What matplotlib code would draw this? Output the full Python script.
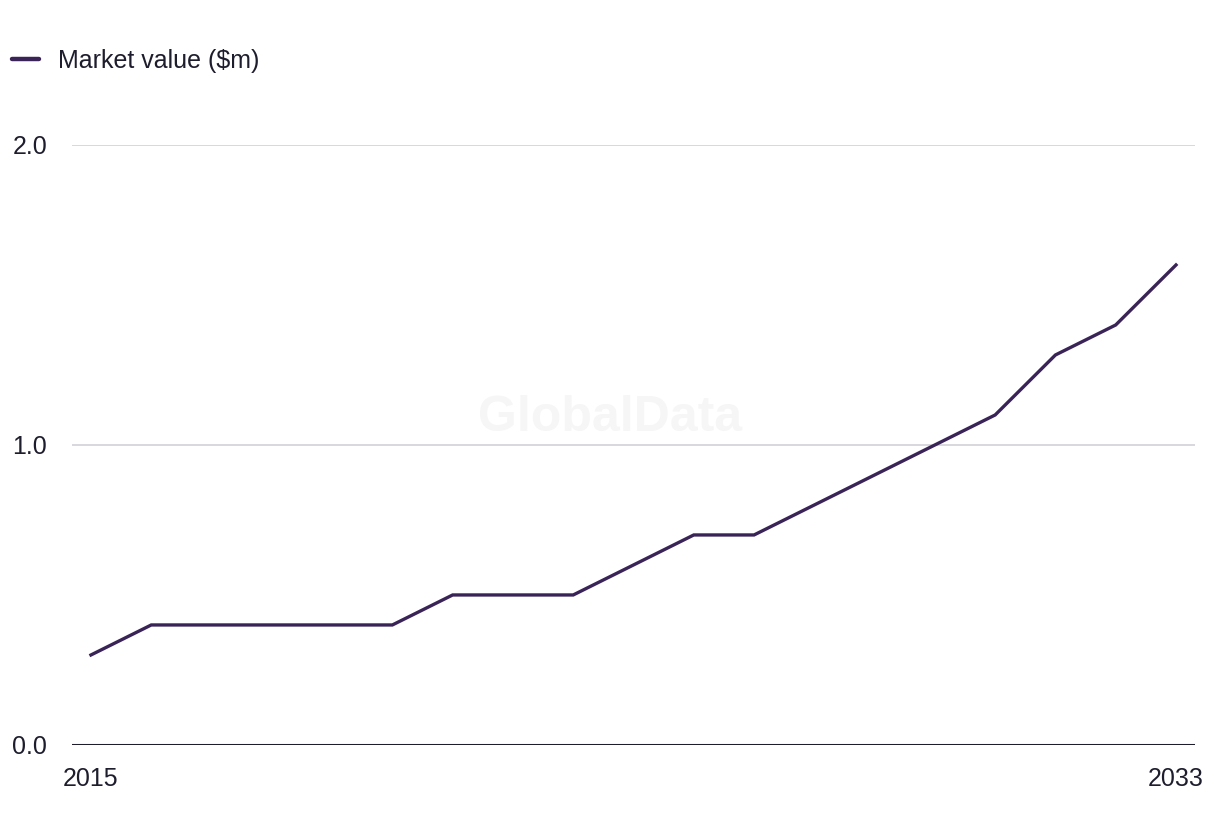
import matplotlib
matplotlib.use("Agg")
import matplotlib.pyplot as plt
from matplotlib.lines import Line2D

YEARS = list(range(2015, 2034))
MARKET_VALUE = [0.3, 0.4, 0.4, 0.4, 0.4, 0.4, 0.5, 0.5, 0.5, 0.6,
                0.7, 0.7, 0.8, 0.9, 1.0, 1.1, 1.3, 1.4, 1.6]
Y_TICKS = [0.0, 1.0, 2.0]
X_TICKS = [2015, 2033]

LINE_COLOR = "#3a2457"
TEXT_COLOR = "#1e1d2d"

plt.rcParams["font.family"] = ["Liberation Sans", "DejaVu Sans"]

fig = plt.figure(figsize=(12.2, 8.36), dpi=100)
ax = fig.add_axes([0.059, 0.1089, 0.9205, 0.7177])

ax.plot(YEARS, MARKET_VALUE, color=LINE_COLOR, lw=2.4,
        solid_joinstyle="miter", label="Market value ($m)")

ax.set_xlim(2014.685, 2033.315)
ax.set_ylim(0, 2.0)
for t in Y_TICKS[1:]:
    ax.axhline(t, color="#d6d6da", lw=1.3, zorder=0)
ax.axhline(0, color=TEXT_COLOR, lw=2.2, zorder=1)

for s in ax.spines.values():
    s.set_visible(False)
ax.set_yticks(Y_TICKS)
ax.set_yticklabels([f"{t:.1f}" for t in Y_TICKS], ha="left")
ax.tick_params(axis="y", length=0, pad=43, labelsize=18, labelcolor=TEXT_COLOR)
ax.set_xticks(X_TICKS)
ax.set_xticklabels([str(t) for t in X_TICKS])
ax.tick_params(axis="x", length=0, pad=16, labelsize=18, labelcolor=TEXT_COLOR)

# faint watermark behind the line
ax.text(0.479, 0.545, "GlobalData", transform=ax.transAxes, ha="center", va="center",
        fontsize=36, fontweight="bold", color="#f6f6f6", zorder=0)

handle = Line2D([], [], color=LINE_COLOR, lw=3.2, solid_capstyle="round")
fig.legend(handles=[handle], labels=["Market value ($m)"], loc="center left",
           bbox_to_anchor=(0.0098, 0.927), frameon=False, fontsize=18,
           labelcolor=TEXT_COLOR, borderpad=0, borderaxespad=0,
           handlelength=1.1, handletextpad=0.75)

fig.savefig("out.png", dpi=100)
